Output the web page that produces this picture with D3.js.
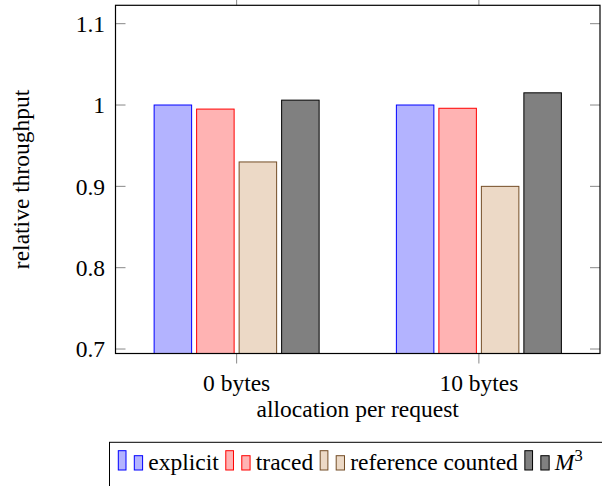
<!DOCTYPE html>
<html>
<head>
<meta charset="utf-8">
<script src="https://cdn.jsdelivr.net/npm/d3@7"></script>
<style>
  body { margin: 0; background: #fff; }
  svg { display: block; font-family: "Liberation Serif", "DejaVu Serif", serif; }
</style>
</head>
<body>
<svg id="chart" width="602" height="486"></svg>
<script>
// data
var categories = ["0 bytes", "10 bytes"];
var seriesNames = ["explicit", "traced", "reference counted", "M3"];
var explicitVals = [1.0, 1.0];
var tracedVals = [0.995, 0.996];
var refcountVals = [0.93, 0.90];
var m3Vals = [1.006, 1.015];
var yTicks = [0.7, 0.8, 0.9, 1.0, 1.1];
var yTickLabels = ["0.7", "0.8", "0.9", "1", "1.1"];

var seriesValues = [explicitVals, tracedVals, refcountVals, m3Vals];
var fills = ["#b3b3ff", "#ffb3b3", "#ecd9c6", "#808080"];
var strokes = ["#0000ff", "#ff0000", "#734d26", "#000000"];

var svg = d3.select("#chart");
var plotLeft = 115.5, plotRight = 600, plotTop = 5.3, plotBottom = 353.5;
var fontSize = 23.5;

var y = d3.scaleLinear().domain([0.6945, 1.1226]).range([plotBottom, plotTop]);
var x = d3.scalePoint().domain(categories).range([plotLeft, plotRight]).padding(0.5);
var inner = d3.scaleBand().domain(seriesNames).range([-82.5, 82.5]).paddingInner(0.1176);

// bars
seriesNames.forEach(function(name, si) {
    svg.append("g").selectAll("rect")
        .data(seriesValues[si]).enter()
        .append("rect")
        .attr("x", function(d, i) { return x(categories[i]) + inner(name); })
        .attr("width", inner.bandwidth())
        .attr("y", function(d) { return y(d); })
        .attr("height", function(d) { return plotBottom - y(d); })
        .attr("fill", fills[si])
        .attr("stroke", strokes[si])
        .attr("stroke-width", 1);
});

// ticks
var tickLen = 10;
var ticks = svg.append("g").attr("stroke", "#888").attr("stroke-width", 1);
yTicks.forEach(function(t) {
    ticks.append("line").attr("x1", plotLeft).attr("x2", plotLeft + tickLen)
        .attr("y1", y(t)).attr("y2", y(t));
    ticks.append("line").attr("x1", plotRight - tickLen).attr("x2", plotRight)
        .attr("y1", y(t)).attr("y2", y(t));
});
categories.forEach(function(c) {
    ticks.append("line").attr("x1", x(c)).attr("x2", x(c))
        .attr("y1", plotBottom).attr("y2", plotBottom + tickLen);
    ticks.append("line").attr("x1", x(c)).attr("x2", x(c))
        .attr("y1", plotTop).attr("y2", plotTop - tickLen);
});

// frame
svg.append("rect")
    .attr("x", plotLeft).attr("y", plotTop)
    .attr("width", plotRight - plotLeft).attr("height", plotBottom - plotTop)
    .attr("fill", "none").attr("stroke", "#000").attr("stroke-width", 1.2);

// tick labels
svg.append("g").selectAll("text")
    .data(yTicks).enter()
    .append("text")
    .attr("x", 105)
    .attr("y", function(d) { return y(d); })
    .attr("dy", "0.35em")
    .attr("text-anchor", "end")
    .attr("font-size", fontSize)
    .text(function(d, i) { return yTickLabels[i]; });

svg.append("g").selectAll("text")
    .data(categories).enter()
    .append("text")
    .attr("x", function(d) { return x(d); })
    .attr("y", 391)
    .attr("text-anchor", "middle")
    .attr("font-size", fontSize)
    .text(function(d) { return d; });

// axis titles
svg.append("text")
    .attr("x", (plotLeft + plotRight) / 2)
    .attr("y", 417)
    .attr("text-anchor", "middle")
    .attr("font-size", fontSize)
    .text("allocation per request");

svg.append("text")
    .attr("transform", "translate(29," + ((plotTop + plotBottom) / 2) + ") rotate(-90)")
    .attr("text-anchor", "middle")
    .attr("font-size", fontSize)
    .text("relative throughput");

// legend
svg.append("rect")
    .attr("x", 109.5).attr("y", 442.3)
    .attr("width", 520).attr("height", 60)
    .attr("fill", "#fff").attr("stroke", "#000").attr("stroke-width", 1);

var lx = 118.3, base = 470;
seriesNames.forEach(function(name, si) {
    var g = svg.append("g");
    g.append("rect").attr("x", lx).attr("y", base - 19.3)
        .attr("width", 7.7).attr("height", 19.3)
        .attr("fill", fills[si]).attr("stroke", strokes[si]).attr("stroke-width", 1);
    g.append("rect").attr("x", lx + 16).attr("y", base - 14.3)
        .attr("width", 8.3).attr("height", 14.3)
        .attr("fill", fills[si]).attr("stroke", strokes[si]).attr("stroke-width", 1);
    var t = g.append("text").attr("x", lx + 30).attr("y", base).attr("font-size", fontSize);
    if (name === "M3") {
        t.append("tspan").attr("font-style", "italic").text("M");
        t.append("tspan").attr("dy", -9).attr("font-size", 16.5).text("3");
    } else {
        t.text(name);
    }
    lx = lx + 30 + t.node().getComputedTextLength() + 7;
});
</script>
</body>
</html>
